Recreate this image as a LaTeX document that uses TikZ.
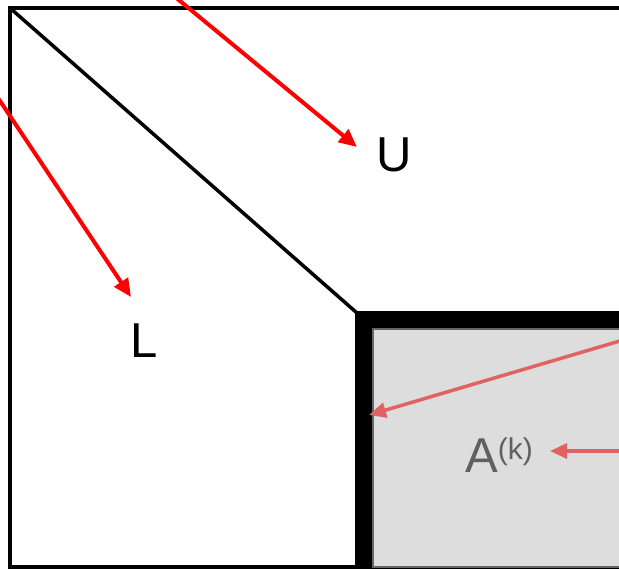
\documentclass[tikz,border=0pt]{standalone}
\usepackage{fontspec}
\setmainfont{Liberation Sans}
\usetikzlibrary{arrows.meta}
\definecolor{lightred}{HTML}{E06262}
\definecolor{boxgray}{HTML}{DDDDDD}
\definecolor{boxedge}{HTML}{666666}
\definecolor{labelgray}{HTML}{606060}
\tikzset{
  frame/.style={line width=4pt, black},
  redarrow/.style={line width=4pt, red, -{Triangle[length=18pt,width=16pt]}},
  lightarrow/.style={line width=3.5pt, lightred, -{Triangle[length=17pt,width=15pt]}},
  lbl/.style={inner sep=0pt, anchor=base west, font=\fontsize{49}{58}\selectfont}
}
\begin{document}
\begin{tikzpicture}[x=1pt,y=-1pt]
\useasboundingbox (0,0) rectangle (619,569);
% thick block and gray box
\fill[black] (355,311) rectangle (640,580);
\filldraw[fill=boxgray, draw=boxedge, line width=2.5pt] (373,329) rectangle (640,567);
% outer frame
\coordinate (tl) at (10,8);
\coordinate (bl) at (10,567);
\coordinate (tr) at (640,8);
\coordinate (bm) at (356,567);
\coordinate (corner) at (357,313);
\draw[frame, line join=miter] (bm) -- (bl) -- (tl) -- (tr);
\draw[line width=3.5pt] (tl) -- (corner);
% labels
\node[lbl] (U) at (376,172) {U};
\node[lbl] (L) at (130,358) {L};
\node[lbl, text=labelgray] (A) at (465,472) {A\raisebox{13pt}{\fontsize{30}{36}\selectfont (k)}};
% arrows
\coordinate (u0) at (174,-4);
\coordinate (u1) at (357,147);
\coordinate (l0) at (-4,95);
\coordinate (l1) at (131,297);
\coordinate (a0) at (630,338);
\coordinate (a1) at (369,415);
\coordinate (k0) at (630,451);
\coordinate (k1) at (550,451);
\draw[redarrow] (u0) -- (u1);
\draw[redarrow] (l0) -- (l1);
\draw[lightarrow] (a0) -- (a1);
\draw[lightarrow] (k0) -- (k1);
\end{tikzpicture}
\end{document}
